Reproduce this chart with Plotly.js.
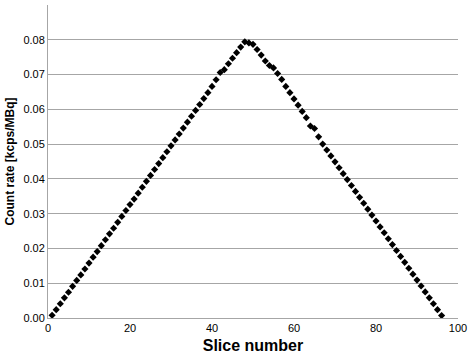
<!DOCTYPE html>
<html>
<head>
<meta charset="utf-8">
<script src="https://cdn.plot.ly/plotly-3.0.1.min.js"></script>
<style>html,body{margin:0;padding:0;background:#fff;}#chart{width:470px;height:355px;}</style>
</head>
<body>
<div id="chart"></div>
<script>
const slices = [1,2,3,4,5,6,7,8,9,10,11,12,13,14,15,16,17,18,19,20,21,22,23,24,25,26,27,28,29,30,31,32,33,34,35,36,37,38,39,40,41,42,43,44,45,46,47,48,49,50,51,52,53,54,55,56,57,58,59,60,61,62,63,64,65,66,67,68,69,70,71,72,73,74,75,76,77,78,79,80,81,82,83,84,85,86,87,88,89,90,91,92,93,94,95,96];
const countRate = [
  0.0008,0.0024,0.0041,0.0058,0.0074,0.0091,0.0108,0.0124,0.0141,0.0158,
  0.0175,0.0191,0.0208,0.0225,0.0242,0.0258,0.0275,0.0292,0.0309,0.0326,
  0.0342,0.0359,0.0376,0.0393,0.0410,0.0427,0.0444,0.0461,0.0478,0.0495,
  0.0512,0.0529,0.0546,0.0563,0.0580,0.0597,0.0614,0.0631,0.0648,0.0666,
  0.0685,0.0706,0.0714,0.0731,0.0747,0.0763,0.0779,0.0794,0.0791,0.0787,
  0.0772,0.0756,0.0739,0.0726,0.0719,0.0703,0.0686,0.0666,0.0648,0.0630,
  0.0612,0.0594,0.0576,0.0552,0.0545,0.0521,0.0500,0.0483,0.0466,0.0449,
  0.0432,0.0415,0.0398,0.0381,0.0364,0.0347,0.0330,0.0313,0.0296,0.0279,
  0.0262,0.0245,0.0228,0.0211,0.0194,0.0177,0.0160,0.0143,0.0126,0.0109,
  0.0092,0.0075,0.0058,0.0041,0.0024,0.0007
];
const xTitle = "Slice number";
const yTitle = "Count rate [kcps/MBq]";

const trace = {
  x: slices, y: countRate, type: 'scatter', mode: 'markers',
  marker: {symbol: 'diamond', size: 5.5, color: '#000'},
  hoverinfo: 'skip'
};
const layout = {
  width: 470, height: 355,
  margin: {l: 48, r: 12, t: 5, b: 37},
  paper_bgcolor: '#fff', plot_bgcolor: '#fff',
  font: {family: 'Liberation Sans, Arial, sans-serif', size: 11, color: '#000'},
  showlegend: false,
  xaxis: {
    range: [0, 100], dtick: 20, tick0: 0,
    showgrid: false, zeroline: false,
    showline: true, linecolor: '#a6a6a6', linewidth: 1,
    ticks: '', ticklen: 0,
    tickfont: {size: 11},
    title: {text: xTitle, font: {size: 16, weight: 'bold'}, standoff: 6}
  },
  yaxis: {
    range: [0, 0.09], dtick: 0.01, tick0: 0, tickformat: '.2f',
    showgrid: true, gridcolor: '#a6a6a6', gridwidth: 1,
    zeroline: false,
    showline: true, linecolor: '#a6a6a6', linewidth: 1,
    ticks: '', ticklen: 0,
    tickfont: {size: 11},
    title: {text: yTitle, font: {size: 12, weight: 'bold'}, standoff: 6}
  }
};
Plotly.newPlot('chart', [trace], layout, {displayModeBar: false, staticPlot: true});
</script>
</body>
</html>
